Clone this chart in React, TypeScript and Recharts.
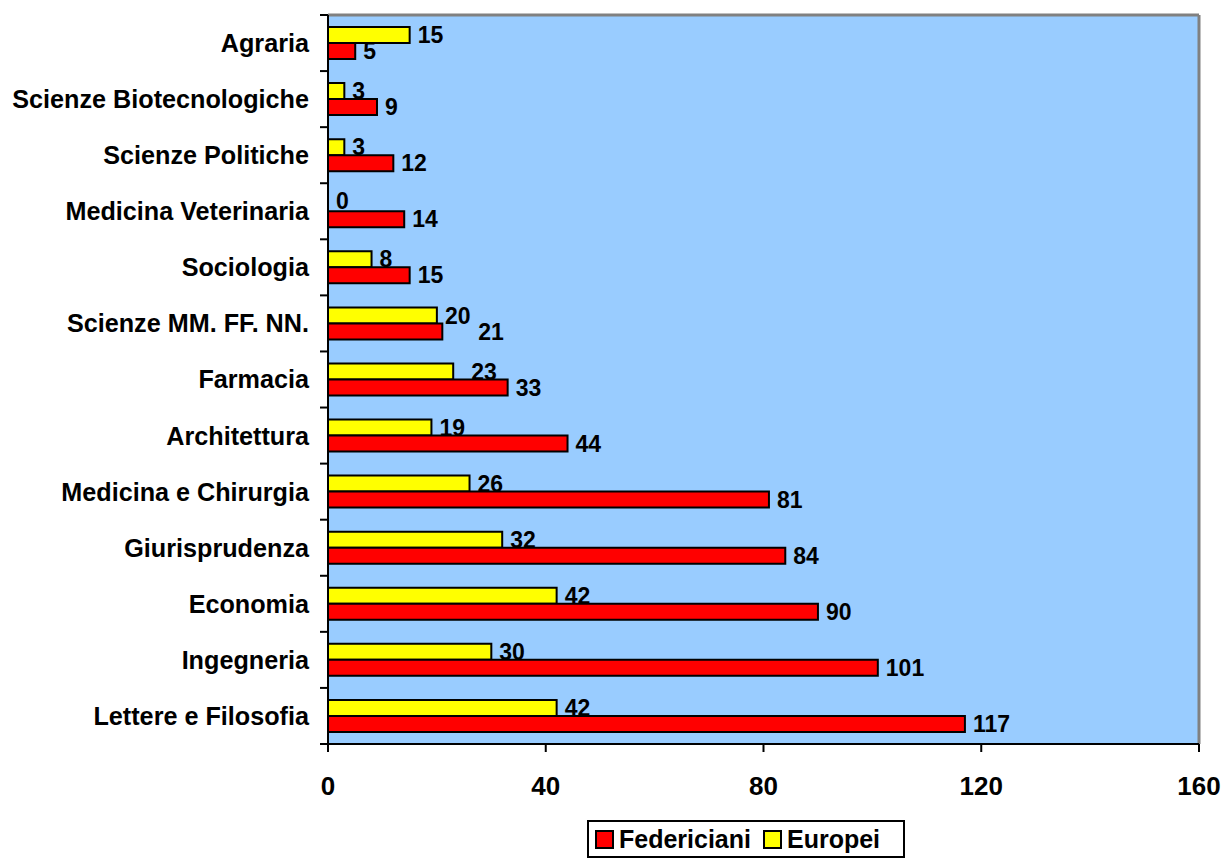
import React from "react";
import { BarChart, Bar, XAxis, YAxis, CartesianGrid, LabelList } from "recharts";

const categories = [
  "Agraria",
  "Scienze Biotecnologiche",
  "Scienze Politiche",
  "Medicina Veterinaria",
  "Sociologia",
  "Scienze MM. FF. NN.",
  "Farmacia",
  "Architettura",
  "Medicina e Chirurgia",
  "Giurisprudenza",
  "Economia",
  "Ingegneria",
  "Lettere e Filosofia",
];
const federiciani = [5, 9, 12, 14, 15, 21, 33, 44, 81, 84, 90, 101, 117];
const europei = [15, 3, 3, 0, 8, 20, 23, 19, 26, 32, 42, 30, 42];
const xTicks = [0, 40, 80, 120, 160];
const seriesNames = ["Federiciani", "Europei"];
const seriesColors = ["#FF0000", "#FFFF00"];

const data = categories.map((name, i) => ({
  name,
  federiciani: federiciani[i],
  europei: europei[i],
}));

const W = 1227;
const H = 862;
const M = { top: 15, right: 28, left: 0, bottom: 0 };
const Y_W = 328;
const X_H = 118;
const PLOT_H = H - M.top - M.bottom - X_H;
const BAND = PLOT_H / categories.length;
const FONT = '"Liberation Sans", Arial, sans-serif';

const YTick = (props: any) => {
  const { x, y, payload, index } = props;
  const half = BAND / 2;
  return (
    <g>
      <line x1={x - 8} x2={x} y1={y - half} y2={y - half} stroke="#000" strokeWidth={2} />
      {index === categories.length - 1 && (
        <line x1={x - 8} x2={x} y1={y + half} y2={y + half} stroke="#000" strokeWidth={2} />
      )}
      <text
        x={x - 19}
        y={y}
        dy="0.355em"
        textAnchor="end"
        fontFamily={FONT}
        fontWeight="bold"
        fontSize={25.2}
        fill="#000"
      >
        {payload.value}
      </text>
    </g>
  );
};

const txt = (x: number, y: number, v: any, key?: string) => (
  <text
    key={key}
    x={x}
    y={y}
    dy="0.355em"
    textAnchor="start"
    fontFamily={FONT}
    fontWeight="bold"
    fontSize={23}
    fill="#000"
  >
    {v}
  </text>
);

// when the two values of a category nearly coincide, the labels are pushed apart to the right
const makeLabel = (series: "europei" | "federiciani") => (props: any) => {
  const { x, y, width, height, value, index } = props;
  const close = Math.abs(federiciani[index] - europei[index]) < 3;
  const shift = close ? (series === "europei" ? 10 : 28) : 0;
  const h = Number(height);
  const lx = Number(x) + Number(width || 0) + 8 + shift;
  const ly = Number(y) + h / 2;
  if (series === "federiciani" && europei[index] === 0) {
    // the zero-length Europei bar gets no label of its own: draw it just above
    return (
      <g>
        {txt(lx, ly, value, "a")}
        {txt(Number(x) + 8, ly - h - 2, europei[index], "b")}
      </g>
    );
  }
  return txt(lx, ly, value);
};

export default function App() {
  return (
    <div style={{ position: "absolute", left: 0, top: 0, width: W, height: H, background: "#fff" }}>
      <BarChart
        width={W}
        height={H}
        data={data}
        layout="vertical"
        margin={M}
        barSize={16}
        barGap={0}
      >
        <CartesianGrid
          fill="#99CCFF"
          stroke="#808080"
          strokeWidth={3}
          horizontalPoints={[M.top]}
          verticalPoints={[W - M.right]}
        />
        <XAxis
          type="number"
          domain={[0, 160]}
          ticks={xTicks}
          interval={0}
          height={X_H}
          axisLine={{ stroke: "#000", strokeWidth: 2 }}
          tickLine={{ stroke: "#000", strokeWidth: 2 }}
          tickSize={8}
          tickMargin={25}
          tick={{ fontFamily: FONT, fontWeight: "bold", fontSize: 26, fill: "#000" }}
        />
        <XAxis
          xAxisId="top"
          orientation="top"
          type="number"
          domain={[0, 160]}
          height={0}
          tick={false}
          tickLine={false}
          axisLine={{ stroke: "#808080", strokeWidth: 3 }}
        />
        <YAxis
          type="category"
          dataKey="name"
          width={Y_W}
          interval={0}
          tickSize={0}
          tickMargin={0}
          tickLine={false}
          axisLine={{ stroke: "#000", strokeWidth: 2 }}
          tick={<YTick />}
        />
        <YAxis
          yAxisId="right"
          orientation="right"
          type="category"
          dataKey="name"
          width={0}
          tick={false}
          tickLine={false}
          axisLine={{ stroke: "#808080", strokeWidth: 3 }}
        />
        <Bar
          dataKey="europei"
          name={seriesNames[1]}
          fill={seriesColors[1]}
          stroke="#000"
          strokeWidth={2}
          isAnimationActive={false}
        >
          <LabelList dataKey="europei" content={makeLabel("europei")} />
        </Bar>
        <Bar
          dataKey="federiciani"
          name={seriesNames[0]}
          fill={seriesColors[0]}
          stroke="#000"
          strokeWidth={2}
          isAnimationActive={false}
        >
          <LabelList dataKey="federiciani" content={makeLabel("federiciani")} />
        </Bar>
      </BarChart>
      <div
        style={{
          position: "absolute",
          left: 587,
          top: 820,
          width: 314,
          height: 34,
          border: "2px solid #000",
          background: "#fff",
          display: "flex",
          alignItems: "center",
          fontFamily: FONT,
          fontWeight: "bold",
          fontSize: 25,
          color: "#000",
        }}
      >
        {seriesNames.map((n, i) => (
          <div key={n} style={{ display: "flex", alignItems: "center", marginLeft: i === 0 ? 6 : 12 }}>
            <div
              style={{
                width: 15,
                height: 15,
                background: seriesColors[i],
                border: "2px solid #000",
                marginRight: 5,
              }}
            />
            <span>{n}</span>
          </div>
        ))}
      </div>
    </div>
  );
}
